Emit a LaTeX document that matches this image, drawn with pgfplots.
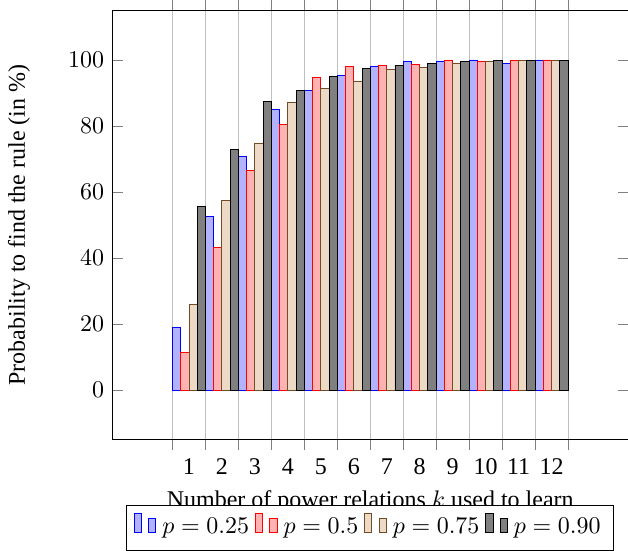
\documentclass[border=0pt]{standalone}
\usepackage{fontspec}
\setmainfont{Liberation Serif}
\usepackage{pgfplots}
\pgfplotsset{compat=1.18}
\begin{document}
\begin{tikzpicture}[trim axis right]
\begin{axis}[
  scale only axis,
  width=215pt, height=179pt,
  ybar,
  bar width=0.25,
  xmin=-1.32, xmax=14.32,
  ymin=-15, ymax=115,
  xtick={0.5,1.5,...,12.5},
  x tick label as interval,
  xticklabels={1,2,3,4,5,6,7,8,9,10,11,12},
  xtick align=outside,
  ytick={0,20,40,60,80,100},
  xmajorgrids,
  xlabel={Number of power relations $k$ used to learn},
  ylabel={Probability to find the rule (in \%)},
  ylabel style={yshift=9pt},
  legend style={at={(0.5,-0.153)}, anchor=north, legend columns=-1,
    inner xsep=3pt, inner ysep=2.8pt, nodes={inner sep=2.5pt}},
]
\addplot+[bar shift=-0.375] coordinates {(1,19.0) (2,52.7) (3,70.8) (4,85.0) (5,90.7) (6,95.4) (7,98.1) (8,99.4) (9,99.4) (10,100) (11,98.9) (12,100)};
\addplot+[bar shift=-0.125] coordinates {(1,11.3) (2,43.2) (3,66.6) (4,80.5) (5,94.6) (6,98.0) (7,98.4) (8,98.7) (9,100) (10,99.6) (11,99.8) (12,100)};
\addplot+[bar shift=0.125] coordinates {(1,25.9) (2,57.3) (3,74.7) (4,87.2) (5,91.5) (6,93.4) (7,97.1) (8,97.6) (9,99.0) (10,99.4) (11,99.8) (12,99.8)};
\addplot+[bar shift=0.375] coordinates {(1,55.6) (2,73.0) (3,87.5) (4,90.9) (5,95.0) (6,97.5) (7,98.4) (8,98.9) (9,99.4) (10,99.8) (11,99.8) (12,99.8)};
\legend{$p=0.25$,$p=0.5$,$p=0.75$,$p=0.90$}
\end{axis}
\end{tikzpicture}
\end{document}
